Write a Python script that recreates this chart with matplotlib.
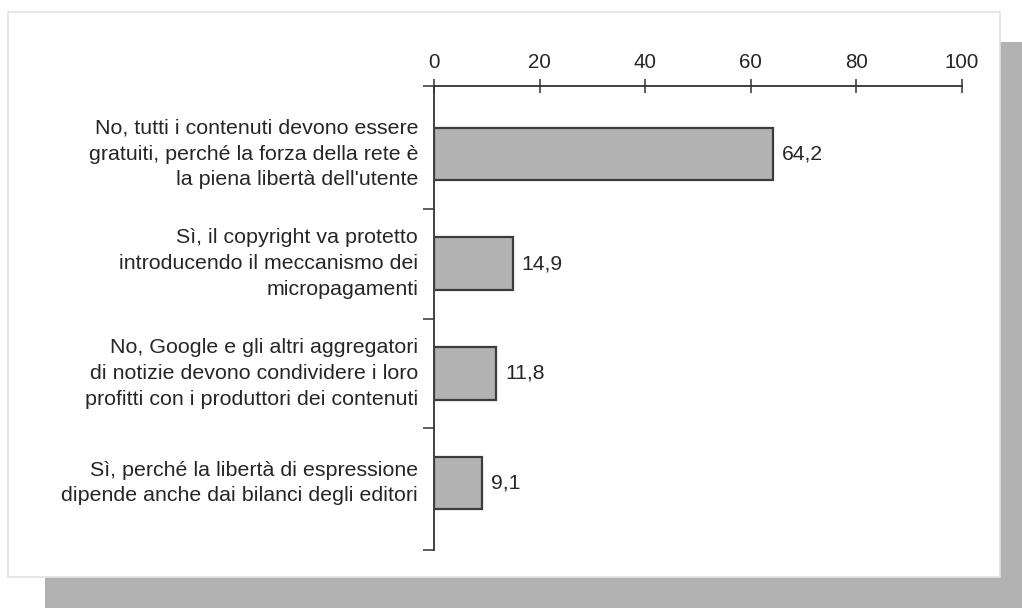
import matplotlib.pyplot as plt
from matplotlib.patches import Rectangle

plt.rcParams['font.family'] = ['Liberation Sans', 'DejaVu Sans']

# data
labels = [
    "No, tutti i contenuti devono essere\ngratuiti, perché la forza della rete è\nla piena libertà dell'utente",
    "Sì, il copyright va protetto\nintroducendo il meccanismo dei\nmicropagamenti",
    "No, Google e gli altri aggregatori\ndi notizie devono condividere i loro\nprofitti con i produttori dei contenuti",
    "Sì, perché la libertà di espressione\ndipende anche dai bilanci degli editori",
]
values = [64.2, 14.9, 11.8, 9.1]
xticks = [0, 20, 40, 60, 80, 100]

FS = 14.8
TXT = '#262626'

W, H = 1022, 608
fig = plt.figure(figsize=(W / 100, H / 100), dpi=100)
fig.patch.set_facecolor('white')

# drop shadow + white panel (behind the axes)
fig.patches.append(Rectangle((45 / W, 0), 1 - 45 / W, 1 - 42 / H,
                             transform=fig.transFigure, facecolor='#b2b2b2',
                             edgecolor='none', zorder=-2))
fig.patches.append(Rectangle((8 / W, 1 - 577 / H), (1000 - 8) / W, (577 - 12) / H,
                             transform=fig.transFigure, facecolor='white',
                             edgecolor='#e2e2e2', linewidth=1.2, zorder=-1))

ax = fig.add_axes([434 / W, 1 - 550 / H, 528 / W, (550 - 86) / H])
ax.set_facecolor('none')

ypos = list(range(len(values)))
ax.barh(ypos, values, height=0.48, color='#b3b3b3', edgecolor='#3c3c3c',
        linewidth=1.6, zorder=3)

for y, v in zip(ypos, values):
    ax.text(v + 1.7, y, f"{v:.1f}".replace('.', ','), va='center', ha='left',
            fontsize=FS + 0.4, color=TXT)

for y, lab in zip(ypos, labels):
    ax.text(-3.0, y, lab, va='center', ha='right', multialignment='right',
            fontsize=15.4, color=TXT, linespacing=1.45)

ax.set_xlim(0, 100)
ax.set_ylim(3.61, -0.62)

ax.xaxis.tick_top()
ax.set_xticks(xticks)
ax.set_xticklabels([str(t) for t in xticks], fontsize=FS, color=TXT)
ax.tick_params(axis='x', direction='inout', length=10, width=1.1,
               color='#333333', pad=5)

ax.set_yticks([-0.62, 0.5, 1.5, 2.5, 3.61])
ax.set_yticklabels([])
ax.tick_params(axis='y', direction='out', length=8, width=1.1, color='#333333')

for s in ['right', 'bottom']:
    ax.spines[s].set_visible(False)
for s in ['left', 'top']:
    ax.spines[s].set_color('#333333')
    ax.spines[s].set_linewidth(1.3)

fig.savefig('out.png', dpi=100)
